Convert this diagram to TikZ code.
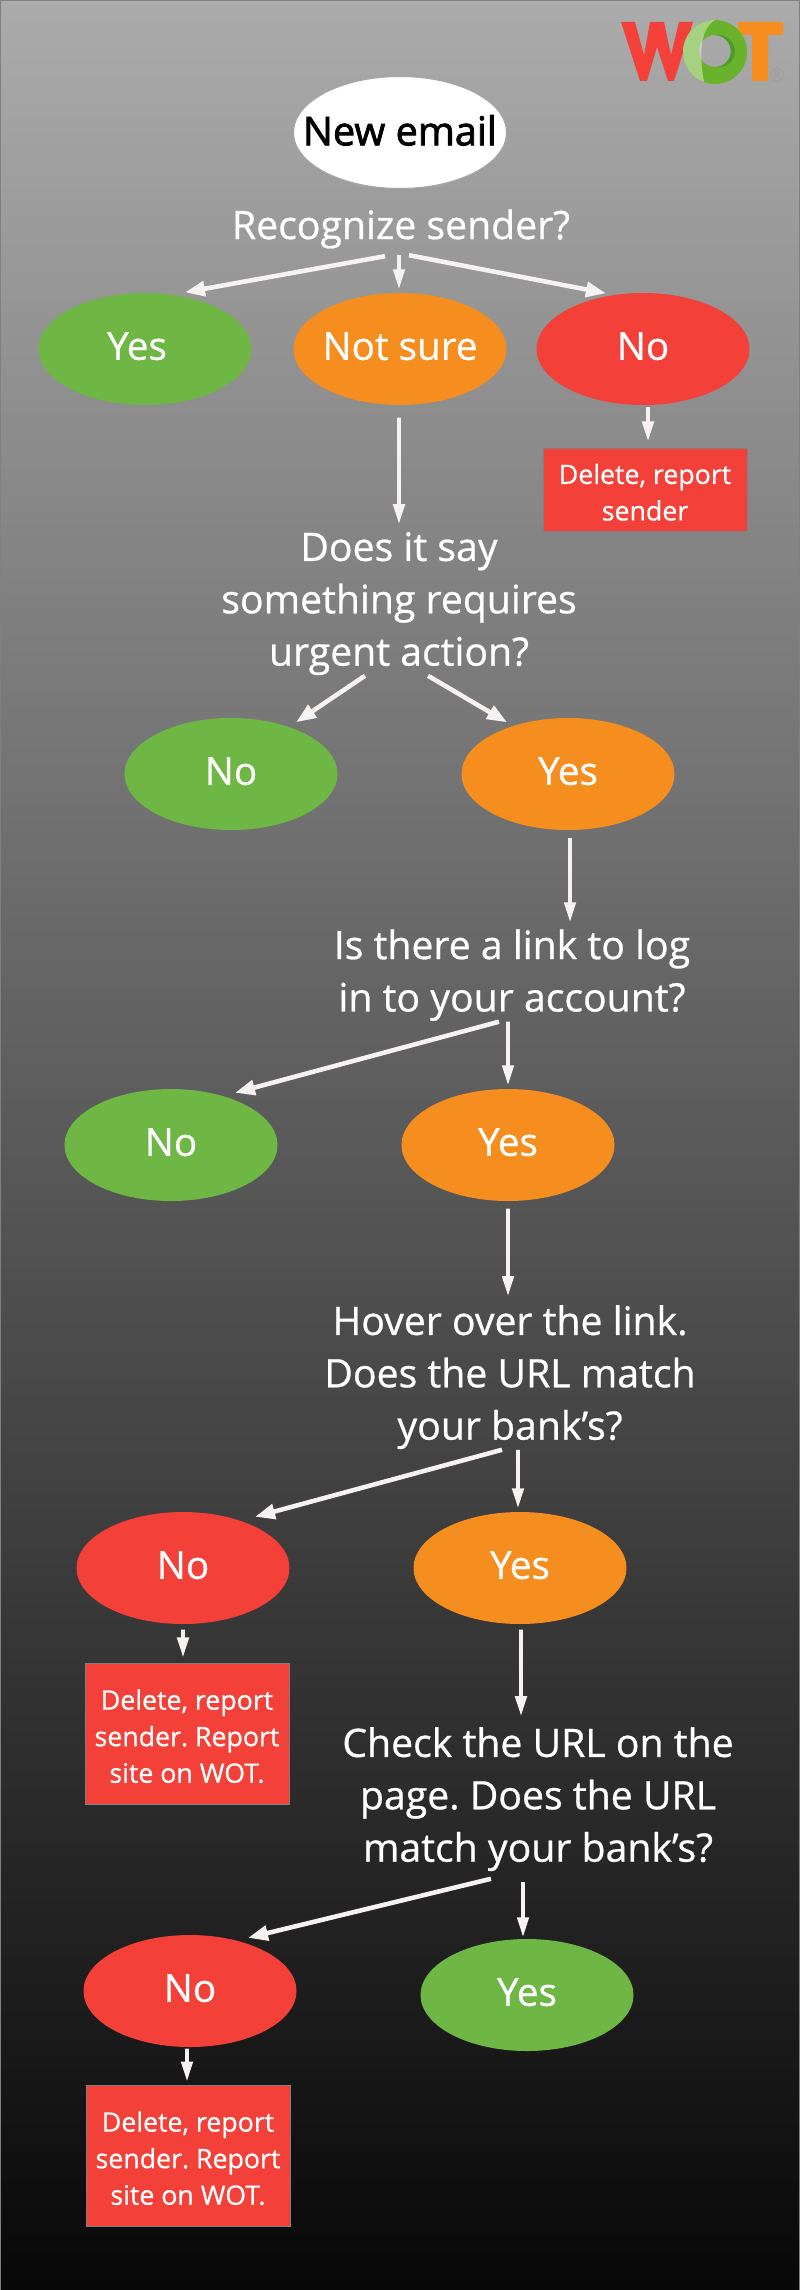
\documentclass[tikz,border=0pt]{standalone}
\usepackage{fontspec}
\setmainfont{Open Sans}[FakeBold=0.7]
\newfontfamily\startfont{Open Sans}[FakeBold=2]
\frenchspacing
\usetikzlibrary{shapes.geometric}
\usetikzlibrary{arrows.meta}
\definecolor{wotgreen}{HTML}{6EB744}
\definecolor{wotorange}{HTML}{F68D1F}
\definecolor{wotred}{HTML}{F3413A}
\definecolor{ringgreen}{HTML}{69B32C}
\definecolor{ringdark}{HTML}{4F9A2A}
\definecolor{arrowwhite}{HTML}{F7F2F2}
\newcommand{\qdrop}{\rule{0pt}{10.8pt}}
\newcommand{\adrop}{\rule{0pt}{7.3pt}}
\tikzset{
	answer/.style={shape=ellipse,minimum width=2.13cm,minimum height=1.12cm,inner sep=-0.45cm,text=white,text height=0.33cm,text depth=0.114cm,font=\fontsize{11}{14.9}\selectfont},
	question/.style={shape=rectangle,inner sep=0pt,align=center,text=white,font=\fontsize{11.15}{14.9}\selectfont},
	action/.style={shape=rectangle,draw=gray,line width=0.28pt,fill=wotred,inner sep=0pt,minimum width=2.04cm,align=center,text=white,font=\fontsize{7.6}{10.4}\selectfont},
	flow/.style={-{Triangle[length=5.7pt,width=3.2pt]},color=arrowwhite,line width=1.1pt},
	slant/.style={-{Triangle[length=5.7pt,width=4.2pt]},color=arrowwhite,line width=1.3pt},
}
\begin{document}
\begin{tikzpicture}
	\useasboundingbox (0,0) rectangle (8,-22.9);
	\draw [draw=gray,line width=0.3pt,top color=black!33,bottom color=black!97] (0,0) rectangle (8,-22.9);
	% logo
	\fill [wotred] (6.21,-0.22) -- (6.35,-0.22) -- (6.44,-0.55) -- (6.50,-0.22) -- (6.64,-0.22) -- (6.71,-0.55) -- (6.79,-0.22) -- (6.93,-0.22) -- (6.74,-0.81) -- (6.68,-0.81) -- (6.57,-0.47) -- (6.47,-0.81) -- (6.40,-0.81) -- cycle;
	\fill [wotorange] (7.38,-0.22) -- (7.83,-0.22) -- (7.83,-0.35) -- (7.68,-0.35) -- (7.68,-0.81) -- (7.52,-0.81) -- (7.52,-0.35) -- (7.38,-0.35) -- cycle;
	\fill [even odd rule,fill=ringgreen] (7.15,-0.52) circle (0.32) (7.15,-0.51) circle (0.16);
	\fill [ringdark] (7.15,-0.35) .. controls (7.42,-0.33) and (7.42,-0.72) .. (7.12,-0.67) arc [start angle=-100,end angle=90,radius=0.16];
	\fill [white,opacity=0.4] (7.15,-0.2) arc [start angle=90,end angle=250,radius=0.32] .. controls (7.0,-0.62) and (6.98,-0.3) .. cycle;
	\draw (7.77,-0.75) node (reg) [text=gray!75,font=\fontsize{5.5}{5.5}\selectfont,inner sep=0pt] {®};
	% first question
	\draw (4,-1.325) node (start) [answer,fill=white,draw=gray!70,line width=0.3pt,text=black,text height=0.37cm,font=\fontsize{11.3}{14.9}\startfont] {New email};
	\draw (4.01,-2.22) node (recognize) [question,minimum height=0.5cm] {\rule{0pt}{12.4pt}Recognize sender?};
	\draw (1.45,-3.49) node (yes1) [answer,fill=wotgreen] {\hspace*{-0.16cm}Yes};
	\draw (4,-3.49) node (unsure1) [answer,fill=wotorange] {Not sure};
	\draw (6.43,-3.49) node (no1) [answer,fill=wotred] {No};
	\draw (6.45,-4.895) node (delete1) [action,minimum height=0.83cm] {\adrop Delete, report\\sender};
	\draw (3.99,-5.99) node (urgent) [question,minimum height=1.5cm] {\qdrop Does it say\\something requires\\urgent action?};
	\draw (2.31,-7.74) node (no2) [answer,fill=wotgreen] {No};
	\draw (5.68,-7.74) node (yes2) [answer,fill=wotorange] {Yes};
	\draw (5.12,-9.71) node (link) [question,minimum height=1cm] {\qdrop Is there a link to log\\in to your account?};
	\draw (1.71,-11.45) node (no3) [answer,fill=wotgreen] {No};
	\draw (5.08,-11.45) node (yes3) [answer,fill=wotorange] {Yes};
	\draw (5.10,-13.73) node (hover) [question,minimum height=1.5cm] {\qdrop Hover over the link.\\Does the URL match\\your bank’s?};
	\draw (1.83,-15.68) node (no4) [answer,fill=wotred] {No};
	\draw (5.20,-15.68) node (yes4) [answer,fill=wotorange] {Yes};
	\draw (1.87,-17.335) node (delete2) [action,minimum height=1.41cm] {\adrop Delete, report\\sender. Report\\site on WOT.};
	\draw (5.38,-17.95) node (check) [question,minimum height=1.5cm] {\qdrop Check the URL on the\\page. Does the URL\\match your bank’s?};
	\draw (1.90,-19.91) node (no5) [answer,fill=wotred] {No};
	\draw (5.27,-19.95) node (yes5) [answer,fill=wotgreen] {Yes};
	\draw (1.88,-21.555) node (delete3) [action,minimum height=1.41cm] {\adrop Delete, report\\sender. Report\\site on WOT.};
	% connectors
	\draw [slant] ([xshift=-0.16cm,yshift=-0.07cm]recognize.south) -- ([xshift=0.40cm]yes1.north);
	\draw [flow] ([xshift=-0.02cm,yshift=-0.06cm]recognize.south) -- ([xshift=-0.01cm,yshift=0.03cm]unsure1.north);
	\draw [slant] ([xshift=0.08cm,yshift=-0.06cm]recognize.south) -- ([xshift=-0.37cm,yshift=-0.01cm]no1.north);
	\draw [flow] ([xshift=-0.01cm,yshift=-0.12cm]unsure1.south) -- ([yshift=-0.02cm]urgent.north);
	\draw [flow] ([xshift=0.05cm,yshift=-0.01cm]no1.south) -- ([xshift=0.03cm,yshift=0.06cm]delete1.north);
	\foreach \i/\j/\xi/\yi/\xj/\yj in {urgent/no2/-0.34/0/0.65/-0.05,urgent/yes2/0.29/0/-0.61/-0.05,link/no3/-0.13/0/0.64/-0.045,hover/no4/-0.08/0/0.72/-0.055,check/no5/-0.47/-0.07/0.58/-0.035} {
		\draw [slant] ([xshift=\xi cm,yshift=\yi cm]\i.south) -- ([xshift=\xj cm,yshift=\yj cm]\j.north);
	}
	\foreach \i/\j/\xi/\yi/\xj/\yj in {link/yes3/-0.04/0/0/0.03,hover/yes4/0.08/0/-0.02/0.03,check/yes5/-0.15/-0.10/-0.04/0.01} {
		\draw [flow] ([xshift=\xi cm,yshift=\yi cm]\i.south) -- ([xshift=\xj cm,yshift=\yj cm]\j.north);
	}
	\draw [flow] ([xshift=0.02cm,yshift=-0.07cm]yes2.south) -- ([xshift=0.58cm,yshift=-0.02cm]link.north);
	\draw [flow] ([yshift=-0.07cm]yes3.south) -- ([xshift=-0.02cm]hover.north);
	\draw [flow] ([yshift=-0.05cm]no4.south) -- ([xshift=-0.04cm,yshift=0.05cm]delete2.north);
	\draw [flow] ([xshift=0.01cm,yshift=-0.05cm]yes4.south) -- ([xshift=-0.17cm,yshift=0.02cm]check.north);
	\draw [flow] ([xshift=-0.03cm,yshift=-0.01cm]no5.south) -- ([xshift=-0.01cm,yshift=0.03cm]delete3.north);
\end{tikzpicture}
\end{document}
